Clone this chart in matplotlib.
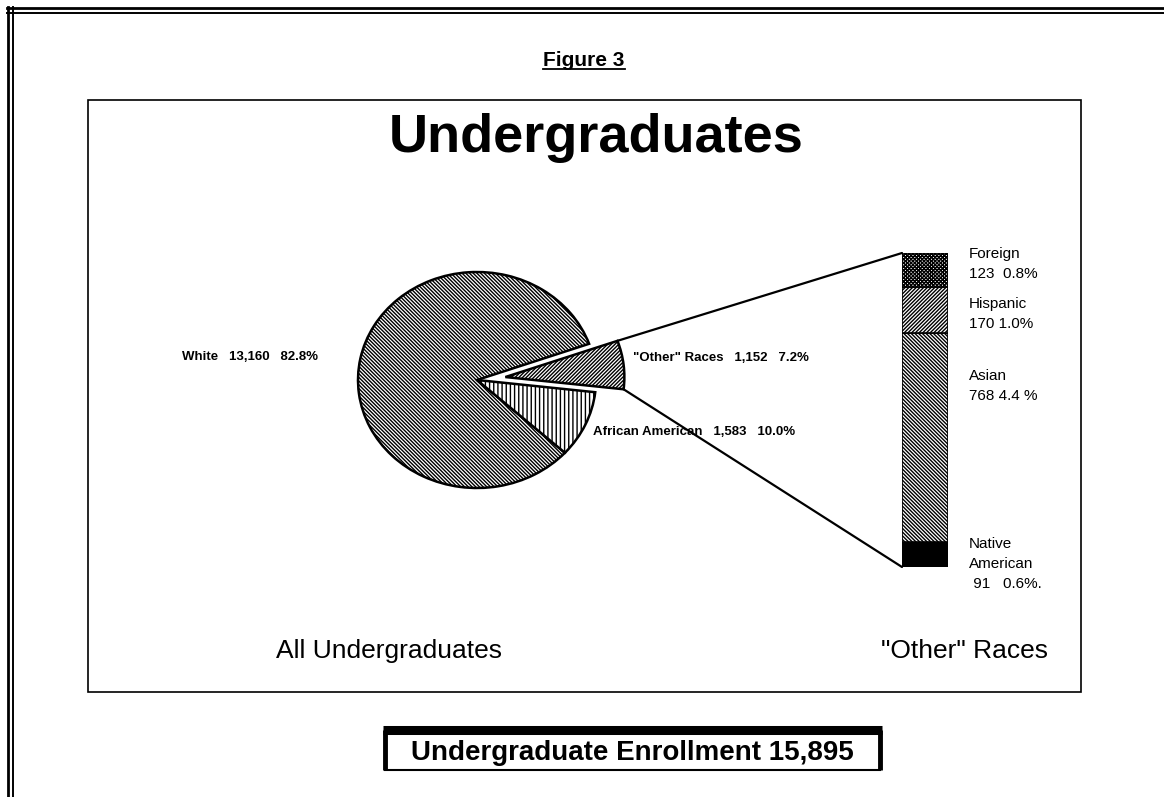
import matplotlib
matplotlib.use("Agg")
import matplotlib.pyplot as plt
from matplotlib.patches import Rectangle, ConnectionPatch
from matplotlib.lines import Line2D
import numpy as np

plt.rcParams['font.family'] = ['Liberation Sans', 'DejaVu Sans']
plt.rcParams['hatch.linewidth'] = 1.0

W, H = 1164, 797

# pie: all undergraduates
pie_labels = ['"Other" Races', 'White', 'African American']
pie_counts = [1152, 13160, 1583]
pie_pcts = ['7.2%', '82.8%', '10.0%']
pie_hatches = ['/' * 9, '\\' * 9, '||||']

# stacked bar: "other" races, bottom to top
bar_labels = ['Native\nAmerican', 'Asian', 'Hispanic', 'Foreign']
bar_counts = [91, 768, 170, 123]
bar_pcts = ['0.6%.', '4.4 %', '1.0%', '0.8%']
bar_hatches = [None, '\\' * 9, '/' * 9, 'x' * 9]
bar_colors = ['black', 'white', 'white', 'white']

total = 15895


def frect(x0, y0, x1, y1):
    """pixel box (y down) -> figure fraction rect"""
    return [x0 / W, 1 - y1 / H, (x1 - x0) / W, (y1 - y0) / H]


fig = plt.figure(figsize=(W / 100, H / 100), dpi=100)
bg = fig.add_axes([0, 0, 1, 1])
bg.set_xlim(0, W)
bg.set_ylim(H, 0)
bg.axis('off')

# page frame (double line top and left)
for y, lw in [(8, 2.0), (13, 1.4)]:
    bg.add_line(Line2D([7, W], [y, y], color='black', lw=lw))
for x, lw in [(8, 2.0), (13, 1.4)]:
    bg.add_line(Line2D([x, x], [7, H], color='black', lw=lw))

# inner chart box
bg.add_patch(Rectangle((88, 100), 1081 - 88, 692 - 100, fill=False,
                       edgecolor='black', lw=1.2))

t = bg.text(584, 66, 'Figure 3', ha='center', va='baseline',
            fontsize=15, fontweight='bold')
bg.text(596, 152, 'Undergraduates', ha='center', va='baseline',
        fontsize=39, fontweight='bold')

# pie
ax_pie = fig.add_axes(frect(477 - 2.5 * 119 / 2, 380 - 2.5 * 108 / 2,
                            477 + 2.5 * 119 / 2, 380 + 2.5 * 108 / 2))
wedges, _ = ax_pie.pie(pie_counts, startangle=-6.5, explode=[0.24, 0, 0],
                       colors=['white'] * 3,
                       wedgeprops=dict(edgecolor='black', linewidth=1.8))
for w, h in zip(wedges, pie_hatches):
    w.set_hatch(h)
ax_pie.set_aspect('auto')
ax_pie.set_xlim(-1.25, 1.25)
ax_pie.set_ylim(-1.25, 1.25)

pie_pos = [(633, 358), (182, 357), (593, 432)]
for (x, y), lab, n, p in zip(pie_pos, pie_labels, pie_counts, pie_pcts):
    bg.text(x, y, f'{lab}   {n:,}   {p}', ha='left', va='center',
            fontsize=9.5, fontweight='bold')

# stacked bar
ax_bar = fig.add_axes(frect(902, 253, 948, 567))
bottom = 0
for n, h, c in zip(bar_counts, bar_hatches, bar_colors):
    ax_bar.bar(0.5, n, width=1, bottom=bottom, color=c, hatch=h,
               edgecolor='black', lw=1.2)
    bottom += n
ax_bar.set_xlim(0, 1)
ax_bar.set_ylim(0, sum(bar_counts))
ax_bar.axis('off')

# connector lines from the exploded slice to the bar
w = wedges[0]
cx, cy = w.center
for ang, yb in [(w.theta2, sum(bar_counts)), (w.theta1, 0)]:
    pt = (cx + w.r * np.cos(np.radians(ang)), cy + w.r * np.sin(np.radians(ang)))
    con = ConnectionPatch(xyA=pt, coordsA=ax_pie.transData,
                          xyB=(0, yb), coordsB=ax_bar.transData,
                          color='black', lw=1.6)
    fig.add_artist(con)

bar_pos = [545, 377, 305, 255]
for y, lab, n, p in zip(bar_pos, bar_labels, bar_counts, bar_pcts):
    gap = '   ' if '\n' in lab else ('  ' if lab == 'Foreign' else ' ')
    pre = ' ' if '\n' in lab else ''
    bg.text(969, y - 8, f'{lab}\n{pre}{n}{gap}{p}', ha='left', va='top',
            fontsize=11, linespacing=1.55)

bg.text(276, 658, 'All Undergraduates', ha='left', va='baseline', fontsize=19)
bg.text(1048, 658, '"Other" Races', ha='right', va='baseline', fontsize=19)

# enrollment box: heavy top and sides, lighter bottom
bx0, bx1, by0, by1 = 385, 880, 730, 770
bg.add_patch(Rectangle((bx0, by0), bx1 - bx0, by1 - by0, facecolor='white',
                       edgecolor='black', lw=1.5))
bg.add_line(Line2D([bx0 - 2.4, bx1 + 2.4], [by0, by0], color='black', lw=6.5,
                   solid_capstyle='butt'))
for xx in (bx0, bx1):
    bg.add_line(Line2D([xx, xx], [by0, by1], color='black', lw=3.5,
                       solid_capstyle='butt'))
bg.text((bx0 + bx1) / 2, 760, f'Undergraduate Enrollment {total:,}',
        ha='center', va='baseline', fontsize=20, fontweight='bold')

# underline for the figure label
fig.canvas.draw()
r = fig.canvas.get_renderer()
inv = bg.transData.inverted()
bb = t.get_window_extent(r)
(x0, _), (x1, _) = inv.transform([(bb.x0, 0), (bb.x1, 0)])
bg.add_line(Line2D([x0, x1], [69, 69], color='black', lw=1.3))

fig.savefig('out.png', dpi=100)
